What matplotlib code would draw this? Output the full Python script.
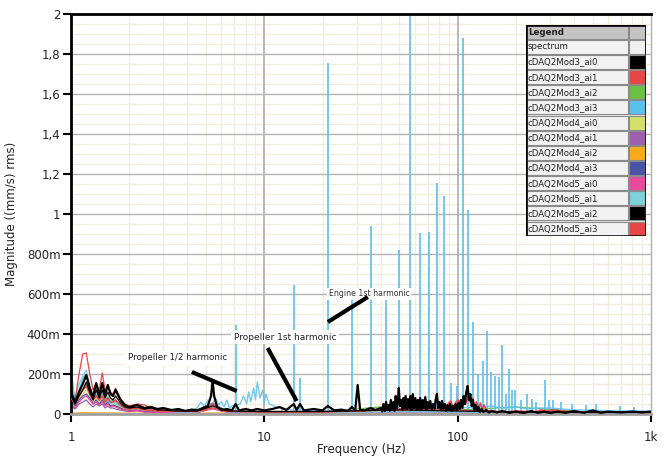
import matplotlib
matplotlib.use("Agg")
import matplotlib.pyplot as plt
from matplotlib.patches import Rectangle
from matplotlib.ticker import MultipleLocator, LogLocator, NullFormatter

# ---------------- data ----------------
series_names = ["cDAQ2Mod3_ai0", "cDAQ2Mod3_ai1", "cDAQ2Mod3_ai2", "cDAQ2Mod3_ai3",
                "cDAQ2Mod4_ai0", "cDAQ2Mod4_ai1", "cDAQ2Mod4_ai2", "cDAQ2Mod4_ai3",
                "cDAQ2Mod5_ai0", "cDAQ2Mod5_ai1", "cDAQ2Mod5_ai2", "cDAQ2Mod5_ai3"]
series_colors = ["#000000", "#e84646", "#6cbf45", "#5bbfee",
                 "#d5e06b", "#9b5fae", "#f7ab1b", "#4a53a5",
                 "#e84a9e", "#7fd1d9", "#000000", "#e84646"]

x_ticks = [1, 10, 100, 1000]
x_tick_labels = ["1", "10", "100", "1k"]
y_ticks = [0, 0.2, 0.4, 0.6, 0.8, 1.0, 1.2, 1.4, 1.6, 1.8, 2.0]
y_tick_labels = ["0", "200m", "400m", "600m", "800m", "1", "1,2", "1,4", "1,6", "1,8", "2"]

# low band (1-3 Hz), shared frequencies
f_low = [1.0, 1.05, 1.1, 1.15, 1.2, 1.25, 1.3, 1.35, 1.4, 1.45, 1.5, 1.55,
         1.6, 1.65, 1.7, 1.8, 1.9, 2.0, 2.2, 2.4, 2.6, 2.8, 3.0]
mod3_ai0_low = [0.09, 0.05, 0.09, 0.12, 0.16, 0.11, 0.07, 0.12, 0.08, 0.12, 0.08, 0.11,
                0.08, 0.07, 0.09, 0.055, 0.035, 0.03, 0.035, 0.025, 0.03, 0.02, 0.02]
mod3_ai1_low = [0.10, 0.07, 0.20, 0.30, 0.305, 0.20, 0.12, 0.15, 0.12, 0.205, 0.12, 0.14,
                0.11, 0.10, 0.13, 0.08, 0.05, 0.04, 0.05, 0.045, 0.03, 0.02, 0.02]
mod3_ai2_low = [0.08, 0.04, 0.09, 0.12, 0.15, 0.10, 0.07, 0.10, 0.07, 0.10, 0.07, 0.09,
                0.06, 0.07, 0.06, 0.045, 0.03, 0.025, 0.03, 0.02, 0.02, 0.015, 0.015]
mod3_ai3_low = [0.23, 0.05, 0.12, 0.18, 0.20, 0.12, 0.08, 0.10, 0.07, 0.09, 0.06, 0.07,
                0.05, 0.06, 0.05, 0.04, 0.03, 0.025, 0.03, 0.02, 0.02, 0.015, 0.015]
mod4_ai0_low = [0.06, 0.05, 0.08, 0.10, 0.12, 0.09, 0.06, 0.08, 0.06, 0.08, 0.05, 0.07,
                0.05, 0.05, 0.045, 0.035, 0.025, 0.02, 0.025, 0.015, 0.015, 0.012, 0.01]
mod4_ai1_low = [0.04, 0.025, 0.05, 0.06, 0.07, 0.05, 0.035, 0.05, 0.04, 0.05, 0.03, 0.04,
                0.03, 0.03, 0.025, 0.02, 0.015, 0.012, 0.015, 0.01, 0.01, 0.008, 0.008]
mod4_ai2_low = [0.006, 0.005, 0.006, 0.007, 0.007, 0.006, 0.005, 0.006, 0.005, 0.006, 0.005, 0.005,
                0.005, 0.005, 0.005, 0.004, 0.004, 0.004, 0.004, 0.004, 0.004, 0.004, 0.004]
mod4_ai3_low = [0.07, 0.04, 0.07, 0.09, 0.10, 0.08, 0.05, 0.07, 0.05, 0.07, 0.045, 0.06,
                0.04, 0.045, 0.04, 0.03, 0.02, 0.018, 0.02, 0.012, 0.012, 0.01, 0.01]
mod5_ai0_low = [0.05, 0.03, 0.06, 0.08, 0.09, 0.07, 0.05, 0.06, 0.045, 0.06, 0.04, 0.05,
                0.035, 0.04, 0.035, 0.025, 0.018, 0.015, 0.018, 0.01, 0.01, 0.008, 0.008]
mod5_ai1_low = [0.15, 0.08, 0.15, 0.19, 0.22, 0.14, 0.09, 0.12, 0.08, 0.11, 0.07, 0.09,
                0.06, 0.07, 0.06, 0.045, 0.035, 0.03, 0.03, 0.02, 0.02, 0.015, 0.015]
mod5_ai2_low = [0.11, 0.06, 0.11, 0.15, 0.195, 0.13, 0.085, 0.155, 0.09, 0.155, 0.095, 0.145,
                0.10, 0.09, 0.12, 0.07, 0.045, 0.035, 0.045, 0.03, 0.035, 0.025, 0.03]
mod5_ai3_low = [0.08, 0.05, 0.09, 0.12, 0.14, 0.10, 0.07, 0.09, 0.07, 0.09, 0.06, 0.08,
                0.06, 0.06, 0.07, 0.045, 0.03, 0.025, 0.03, 0.02, 0.02, 0.015, 0.015]

# tail (3.5 Hz - 1 kHz) for the quieter channels, shared frequencies
f_tail = [3.5, 4.5, 5.4, 6.5, 10, 20, 45, 55, 100, 200, 500, 1000]
mod3_ai0_tail = [0.015, 0.015, 0.04, 0.015, 0.012, 0.012, 0.02, 0.02, 0.015, 0.01, 0.008, 0.008]
mod3_ai1_tail = [0.015, 0.012, 0.03, 0.012, 0.01, 0.01, 0.02, 0.02, 0.02, 0.01, 0.008, 0.008]
mod3_ai2_tail = [0.012, 0.012, 0.05, 0.012, 0.01, 0.01, 0.04, 0.06, 0.02, 0.035, 0.008, 0.006]
mod4_ai0_tail = [0.01, 0.01, 0.035, 0.01, 0.008, 0.008, 0.01, 0.01, 0.01, 0.008, 0.006, 0.005]
mod4_ai1_tail = [0.008, 0.01, 0.055, 0.01, 0.006, 0.006, 0.008, 0.008, 0.008, 0.006, 0.005, 0.004]
mod4_ai2_tail = [0.004, 0.004, 0.005, 0.004, 0.004, 0.004, 0.004, 0.004, 0.004, 0.004, 0.004, 0.004]
mod4_ai3_tail = [0.008, 0.008, 0.03, 0.008, 0.006, 0.006, 0.008, 0.008, 0.008, 0.006, 0.005, 0.004]
mod5_ai0_tail = [0.006, 0.008, 0.025, 0.008, 0.006, 0.006, 0.008, 0.008, 0.008, 0.006, 0.005, 0.004]
mod5_ai1_tail = [0.01, 0.01, 0.03, 0.01, 0.008, 0.008, 0.01, 0.01, 0.01, 0.008, 0.006, 0.005]

# cDAQ2Mod3_ai3 (blue): broadband floor above 3 Hz
blue_mid_f = [3.3, 3.6, 3.9, 4.2, 4.5, 4.7, 4.9, 5.1, 5.3, 5.6,
              5.8, 6.0, 6.2, 6.4, 6.6, 6.8, 7.5, 7.8, 8.1, 8.3,
              8.5, 8.8, 9.0, 9.2, 9.5, 9.8, 10.0, 10.2, 10.6, 11.0,
              11.5, 12.0, 13.0, 14.0, 16.0, 18.0, 20.0, 25.0, 30.0, 35.0,
              40.0, 50.0, 60.0, 70.0, 80.0, 90.0, 100.0, 130.0, 150.0, 170.0,
              200.0, 230.0, 260.0, 300.0, 350.0, 400.0, 500.0, 600.0, 800.0, 1000.0]
blue_mid_v = [0.015, 0.02, 0.015, 0.02, 0.03, 0.06, 0.035, 0.07, 0.04, 0.08,
              0.045, 0.06, 0.035, 0.07, 0.03, 0.04, 0.05, 0.09, 0.05, 0.11,
              0.06, 0.13, 0.07, 0.16, 0.08, 0.12, 0.06, 0.10, 0.05, 0.045,
              0.035, 0.03, 0.025, 0.02, 0.02, 0.02, 0.015, 0.02, 0.015, 0.02,
              0.02, 0.025, 0.02, 0.025, 0.03, 0.03, 0.03, 0.035, 0.04, 0.03,
              0.035, 0.025, 0.03, 0.03, 0.025, 0.02, 0.02, 0.015, 0.015, 0.015]
# cDAQ2Mod3_ai3 (blue): narrow harmonic lines
blue_harm_f = [7.1, 12.4, 14.2, 15.3, 21.3, 28.4, 35.5, 42.6, 49.7, 56.8,
               63.9, 71.0, 78.1, 85.2, 92.3, 99.4, 106.5, 113.6, 120.7, 127.8,
               134.9, 142.0, 149.1, 156.2, 163.3, 170.4, 177.5, 184.6, 191.7, 198.8,
               213.0, 227.2, 241.4, 255.6, 284.0, 298.2, 312.4, 340.8, 392.0, 460.0,
               520.0, 690.0, 820.0]
blue_harm_v = [0.445, 0.03, 0.645, 0.18, 1.755, 0.585, 0.94, 0.58, 0.82, 1.995,
               0.905, 0.91, 1.155, 1.09, 0.155, 0.14, 1.88, 1.02, 0.46, 0.20,
               0.265, 0.415, 0.21, 0.19, 0.185, 0.345, 0.10, 0.225, 0.12, 0.12,
               0.07, 0.10, 0.075, 0.06, 0.17, 0.07, 0.07, 0.06, 0.05, 0.045,
               0.05, 0.04, 0.035]

# cDAQ2Mod5_ai2 (bold black) above 3 Hz
black_mid_f = [3.3, 3.6, 3.9, 4.2, 4.5, 4.8, 5.1, 5.3, 5.4, 5.5,
               5.7, 6.0, 6.4, 6.8, 7.1, 7.4, 8.0, 8.6, 9.2, 10.0,
               11.0, 12.0, 13.0, 14.2, 14.7, 15.3, 16.0, 18.0, 20.0, 21.3,
               23.0, 25.0, 27.0, 28.4, 29.5, 30.4, 31.3, 33.0, 35.5, 37.5,
               40.0, 40.7, 41.3, 42.0, 42.6, 43.2, 43.9, 44.5, 45.1, 45.8,
               46.5, 47.1, 47.8, 48.5, 49.1, 49.6, 50.3, 51.0, 51.7, 52.4,
               53.1, 53.8, 54.6, 55.4, 56.2, 57.0, 57.8, 58.6, 59.5, 60.4,
               61.3, 62.2, 63.1, 64.0, 65.0, 66.0, 67.0, 68.0, 69.0, 70.0,
               71.0, 72.2, 73.4, 74.6, 75.8, 77.0, 78.1, 79.3, 80.5, 81.8,
               83.0, 84.4, 85.8, 87.2, 88.6, 90.0, 91.5, 93.0, 94.5, 96.0,
               97.6, 99.2, 100.8, 102.4, 104.0, 105.7, 107.4, 109.0, 110.8, 112.6,
               114.4, 116.3, 118.2, 120.0, 122.0, 124.0, 126.0, 128.0, 130.0, 133.0,
               136.0, 140.0, 145.0, 150.0, 160.0, 170.0, 185.0, 200.0, 220.0, 240.0,
               260.0, 280.0, 300.0, 330.0, 360.0, 400.0, 450.0, 500.0, 550.0, 600.0,
               700.0, 800.0, 900.0, 1000.0]
black_mid_v = [0.02, 0.025, 0.015, 0.022, 0.018, 0.03, 0.04, 0.09, 0.165, 0.09,
               0.035, 0.02, 0.025, 0.018, 0.05, 0.018, 0.025, 0.018, 0.025, 0.018,
               0.025, 0.035, 0.02, 0.05, 0.02, 0.05, 0.018, 0.025, 0.018, 0.04,
               0.018, 0.022, 0.015, 0.035, 0.018, 0.145, 0.02, 0.018, 0.03, 0.02,
               0.03, 0.012, 0.05, 0.015, 0.06, 0.02, 0.045, 0.015, 0.07, 0.02,
               0.06, 0.015, 0.09, 0.03, 0.07, 0.13, 0.04, 0.07, 0.02, 0.08,
               0.03, 0.09, 0.025, 0.075, 0.03, 0.09, 0.02, 0.10, 0.03, 0.08,
               0.02, 0.07, 0.025, 0.08, 0.02, 0.07, 0.03, 0.085, 0.02, 0.06,
               0.03, 0.065, 0.02, 0.05, 0.025, 0.075, 0.10, 0.03, 0.06, 0.02,
               0.065, 0.025, 0.05, 0.015, 0.045, 0.02, 0.05, 0.015, 0.04, 0.02,
               0.05, 0.02, 0.055, 0.025, 0.07, 0.03, 0.09, 0.05, 0.11, 0.14,
               0.07, 0.10, 0.04, 0.07, 0.02, 0.045, 0.015, 0.035, 0.01, 0.025,
               0.01, 0.02, 0.008, 0.015, 0.008, 0.015, 0.006, 0.012, 0.005, 0.015,
               0.006, 0.012, 0.005, 0.012, 0.006, 0.015, 0.006, 0.018, 0.006, 0.012,
               0.008, 0.012, 0.008, 0.012]

# cDAQ2Mod5_ai3 (red) above 3 Hz
red_mid_f = [3.5, 5.0, 5.4, 6.0, 10, 20, 30, 40, 50, 60,
             70, 80, 86, 89, 92, 95, 98, 101, 104, 107,
             110, 113, 116, 119, 122, 125, 128, 131, 134, 137,
             141, 150, 180, 200, 250, 270, 290, 310, 400, 600,
             1000]
red_mid_v = [0.015, 0.02, 0.05, 0.015, 0.012, 0.012, 0.015, 0.02, 0.025, 0.03,
             0.025, 0.03, 0.02, 0.05, 0.065, 0.03, 0.06, 0.07, 0.04, 0.075,
             0.05, 0.085, 0.06, 0.08, 0.04, 0.06, 0.03, 0.055, 0.025, 0.045,
             0.02, 0.012, 0.01, 0.015, 0.01, 0.02, 0.015, 0.02, 0.01, 0.01,
             0.008]

# ---------------- figure ----------------
W, H = 670, 459
fig = plt.figure(figsize=(W / 100, H / 100), dpi=100)
fig.patch.set_facecolor("white")
ax = fig.add_axes([71 / W, 1 - 414 / H, 580 / W, 400 / H])
ax.set_xscale("log")
ax.set_xlim(1, 1000)
ax.set_ylim(0, 2)

thin = 0.9
# quieter channels
quiet = [(2, mod3_ai2_low, mod3_ai2_tail), (4, mod4_ai0_low, mod4_ai0_tail),
         (5, mod4_ai1_low, mod4_ai1_tail), (6, mod4_ai2_low, mod4_ai2_tail),
         (7, mod4_ai3_low, mod4_ai3_tail), (8, mod5_ai0_low, mod5_ai0_tail),
         (9, mod5_ai1_low, mod5_ai1_tail)]
for idx, low, tail in quiet:
    ax.plot(f_low + f_tail, low + tail, color=series_colors[idx], lw=thin, zorder=2)

# blue channel: floor + harmonic lines
ax.plot(f_low + blue_mid_f, mod3_ai3_low + blue_mid_v, color=series_colors[3],
        lw=1.0, alpha=0.85, zorder=2.4)
ax.vlines(blue_harm_f, 0, blue_harm_v, color=series_colors[3], lw=1.4, alpha=0.85, zorder=2.5)

# red channels
ax.plot(f_low + f_tail, mod3_ai1_low + mod3_ai1_tail, color=series_colors[1], lw=thin, zorder=2.6)
ax.plot(f_low + red_mid_f, mod5_ai3_low + red_mid_v, color=series_colors[11], lw=1.2, zorder=2.7)

# black channels
ax.plot(f_low + f_tail, mod3_ai0_low + mod3_ai0_tail, color=series_colors[0], lw=thin, zorder=2.8)
ax.plot(f_low + black_mid_f, mod5_ai2_low + black_mid_v, color=series_colors[10], lw=1.6, zorder=3)

# ticks
ax.set_xticks(x_ticks)
ax.set_xticklabels(x_tick_labels)
ax.xaxis.set_minor_locator(LogLocator(base=10, subs=[2, 3, 4, 5, 6, 7, 8, 9]))
ax.xaxis.set_minor_formatter(NullFormatter())
ax.set_yticks(y_ticks)
ax.set_yticklabels(y_tick_labels)
ax.yaxis.set_minor_locator(MultipleLocator(0.05))

# grid: faint beige minor lines, gray major lines drawn on top of them
ax.grid(which="minor", color="#f1eee0", lw=1.0)
ax.grid(which="major", visible=False)
for xv in x_ticks[1:-1]:
    ax.axvline(xv, color="#ababab", lw=1.2, zorder=1)
for yv in y_ticks[1:]:
    ax.axhline(yv, color="#b3b3b3", lw=1.0, zorder=1)
ax.set_axisbelow(True)

ax.tick_params(axis="x", which="major", direction="out", length=6, width=1.5,
               pad=6, labelsize=8.5, colors="black", labelcolor="#222222")
ax.tick_params(axis="y", which="major", direction="out", length=6, width=1.5,
               pad=1.5, labelsize=8.5, colors="black", labelcolor="#222222")
ax.tick_params(which="minor", length=0)
ax.spines["left"].set_color("black")
ax.spines["left"].set_linewidth(2)
ax.spines["top"].set_color("black")
ax.spines["top"].set_linewidth(2)
ax.spines["right"].set_color("#b0b0b0")
ax.spines["right"].set_linewidth(1)
ax.spines["bottom"].set_color("#a0a0a0")
ax.spines["bottom"].set_linewidth(2)

ax.set_xlabel("Frequency (Hz)", fontsize=8.5, color="#222222")
ax.set_ylabel("Magnitude ((mm/s) rms)", fontsize=8.5, color="#222222")
ax.xaxis.set_label_coords(0.5, -0.072)
ax.yaxis.set_label_coords(-0.092, 0.5)

# annotations
box = dict(facecolor="white", edgecolor="none", pad=2.0)
ax.text(3.57, 0.28, "Propeller 1/2 harmonic", fontsize=6.3, ha="center", va="center",
        color="#222222", bbox=box, zorder=6)
ax.plot([4.22, 7.2], [0.21, 0.115], color="black", lw=3, solid_capstyle="butt", zorder=6)
ax.text(12.76, 0.385, "Propeller 1st harmonic", fontsize=6.5, ha="center", va="center",
        color="#222222", bbox=box, zorder=6)
ax.plot([10.4, 14.7], [0.33, 0.065], color="black", lw=3, solid_capstyle="butt", zorder=6)
ax.text(34.9, 0.60, "Engine 1st harmonic", fontsize=5.6, ha="center", va="center",
        color="#333333", bbox=dict(facecolor="white", edgecolor="none", pad=1.0), zorder=6)
ax.plot([21.3, 34.3], [0.46, 0.585], color="black", lw=3, solid_capstyle="butt", zorder=6)

# custom legend table
lx0, ly0, lw_, lh_ = 526, 25, 120, 211
lax = fig.add_axes([lx0 / W, 1 - (ly0 + lh_) / H, lw_ / W, lh_ / H])
lax.set_xlim(0, lw_)
lax.set_ylim(lh_, 0)
lax.axis("off")
legend_labels = ["spectrum"] + series_names
legend_colors = ["#f0f0f0"] + series_colors
hdr = 14.0
row = (lh_ - hdr) / len(legend_labels)
lax.add_patch(Rectangle((0, 0), lw_, lh_, facecolor="#e8e8e8", edgecolor="none"))
lax.add_patch(Rectangle((0.8, 0.8), 101.5, hdr - 1.2, facecolor="#c4c4c4", edgecolor="#8a8a8a", lw=0.8))
lax.add_patch(Rectangle((103, 0.8), 16.2, hdr - 1.2, facecolor="#c4c4c4", edgecolor="#8a8a8a", lw=0.8))
lax.text(2.5, hdr / 2 + 0.3, "Legend", fontsize=6.3, fontweight="bold", va="center", ha="left",
         color="#222222")
for i, (lab, col) in enumerate(zip(legend_labels, legend_colors)):
    y0 = hdr + i * row
    lax.add_patch(Rectangle((0.8, y0 + 0.8), 101.5, row - 1.2, facecolor="#f2f2f2",
                            edgecolor="#8a8a8a", lw=0.8))
    lax.add_patch(Rectangle((103, y0 + 0.8), 16.2, row - 1.2, facecolor=col,
                            edgecolor="#8a8a8a", lw=0.8))
    lax.text(1.8, y0 + row / 2 + 0.3, lab, fontsize=6.2, va="center", ha="left", color="#222222")
lax.add_patch(Rectangle((0, 0), lw_, lh_, facecolor="none", edgecolor="black", lw=1.8))

fig.savefig("out.png", dpi=100)
